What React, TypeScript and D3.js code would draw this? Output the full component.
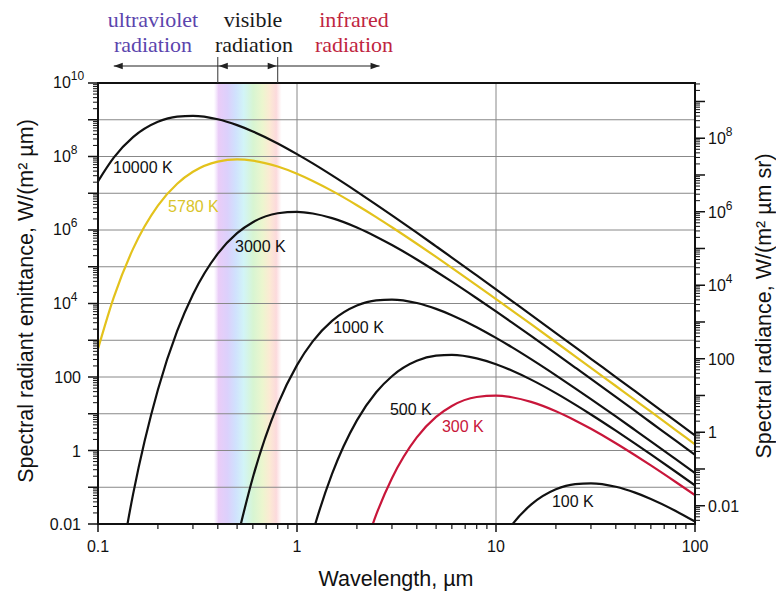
import React from 'react';
import * as d3 from 'd3';

// Wavelength grid, µm
const wavelengths = [
  0.1, 0.12, 0.15, 0.2, 0.25, 0.3, 0.4, 0.5, 0.6, 0.8,
  1, 1.2, 1.5, 2, 2.5, 3, 4, 5, 6, 8,
  10, 12, 15, 20, 25, 30, 40, 50, 60, 80,
  100,
];

// Spectral radiant emittance, W/(m² µm); null = far below the axis
const exitance10000K = [
  2.11e7, 9.33e7, 3.36e8, 8.79e8, 1.22e9, 1.28e9, 1.03e9, 7.14e8, 4.81e8, 2.27e8,
  1.16e8, 6.49e7, 3.06e7, 1.11e7, 4.92e6, 2.5e6, 8.44e5, 3.59e5, 1.78e5, 5.8e4,
  2.42e4, 1.18e4, 4.9e3, 1.57e3, 647, 313, 99.8, 41.0, 19.8, 6.29,
  2.58,
];
const exitance5780K = [
  579, 1.47e4, 3.06e5, 4.6e6, 1.82e7, 3.84e7, 7.26e7, 8.3e7, 7.72e7, 5.32e7,
  3.39e7, 2.16e7, 1.16e7, 4.73e6, 2.25e6, 1.19e6, 4.23e5, 1.86e5, 9.36e4, 3.13e4,
  1.32e4, 6.52e3, 2.73e3, 882, 366, 178, 56.9, 23.5, 11.4, 3.61,
  1.48,
];
const exitance3000K = [
  null, 6.6e-5, 0.0641, 45.0, 1.79e3, 1.76e4, 2.27e5, 8.18e5, 1.63e6, 2.85e6,
  3.12e6, 2.81e6, 2.1e6, 1.17e6, 6.59e5, 3.9e5, 1.58e5, 7.44e4, 3.93e4, 1.39e4,
  6.08e3, 3.06e3, 1.31e3, 432, 181, 88.8, 28.7, 11.9, 5.78, 1.85,
  0.762,
];
const exitance1000K = [
  null, null, null, null, null, null, null, 3.81e-3, 0.185, 17.7,
  211, 933, 3.36e3, 8.79e3, 1.22e4, 1.28e4, 1.03e4, 7.14e3, 4.81e3, 2.27e3,
  1.16e3, 649, 306, 111, 49.2, 25.0, 8.44, 3.59, 1.78, 0.58,
  0.242,
];
const exitance500K = [
  null, null, null, null, null, null, null, null, null, null,
  1.19e-4, 5.79e-3, 0.23, 6.6, 38.4, 105, 275, 380, 401, 322,
  223, 150, 84.8, 36.4, 17.7, 9.57, 3.47, 1.54, 0.782, 0.264,
  0.112,
];
const exitance300K = [
  null, null, null, null, null, null, null, null, null, null,
  null, null, null, 4.5e-4, 0.0179, 0.176, 2.27, 8.18, 16.3, 28.5,
  31.2, 28.1, 21.0, 11.7, 6.59, 3.9, 1.58, 0.744, 0.393, 0.139,
  0.0608,
];
const exitance100K = [
  null, null, null, null, null, null, null, null, null, null,
  null, null, null, null, null, null, null, null, null, null,
  2.11e-3, 9.33e-3, 0.0336, 0.0879, 0.122, 0.128, 0.103, 0.0714, 0.0481, 0.0227,
  0.0116,
];

const temperatureLabels = ['10000 K', '5780 K', '3000 K', '1000 K', '500 K', '300 K', '100 K'];

// Tick values
const xTickLabels = [0.1, 1, 10, 100];
const leftTickLabels = [1e10, 1e8, 1e6, 1e4, 100, 1, 0.01];
const rightTickLabels = [1e8, 1e6, 1e4, 100, 1, 0.01];

// Band boundaries (µm) for the radiation ranges above the plot
const uvStart = 0.12;
const visibleRange = [0.4, 0.8];
const irEnd = 2.6;

const W = 776;
const H = 592;
const left = 98, right = 695, top = 83, bottom = 524;

const sansFont = '"Liberation Sans", Arial, Helvetica, sans-serif';
const serifFont = '"Liberation Serif", "Times New Roman", serif';

function powerParts(v: number) {
  if (v >= 1e4) return { base: '10', exp: String(Math.round(Math.log10(v))) };
  return { base: String(v), exp: null as string | null };
}

export default function App() {
  const x = d3.scaleLog().domain([0.1, 100]).range([left, right]);
  const y = d3.scaleLog().domain([0.01, 1e10]).range([bottom, top]);
  const yR = d3.scaleLog().domain([0.01 / Math.PI, 1e10 / Math.PI]).range([bottom, top]);

  const series = [
    { name: temperatureLabels[0], values: exitance10000K, color: '#111', labelColor: '#111', at: [0.119, 3.6e7] },
    { name: temperatureLabels[1], values: exitance5780K, color: '#e3c21c', labelColor: '#d9c42a', at: [0.225, 3.1e6] },
    { name: temperatureLabels[2], values: exitance3000K, color: '#111', labelColor: '#111', at: [0.488, 2.5e5] },
    { name: temperatureLabels[3], values: exitance1000K, color: '#111', labelColor: '#111', at: [1.52, 1.6e3] },
    { name: temperatureLabels[4], values: exitance500K, color: '#111', labelColor: '#111', at: [2.93, 9] },
    { name: temperatureLabels[5], values: exitance300K, color: '#c8163a', labelColor: '#c8163a', at: [5.35, 3.2] },
    { name: temperatureLabels[6], values: exitance100K, color: '#111', labelColor: '#111', at: [19.1, 0.029] },
  ];

  const line = d3
    .line<[number, number | null]>()
    .defined((d) => d[1] != null)
    .x((d) => x(d[0]))
    .y((d) => y(d[1] as number))
    .curve(d3.curveMonotoneX);

  // decade ticks
  const leftDecades = d3.range(-2, 11).map((e) => Math.pow(10, e));
  const gridDecades = d3.range(-1, 10).map((e) => Math.pow(10, e));
  const leftMinor: number[] = [];
  d3.range(-2, 10).forEach((e) => d3.range(2, 10).forEach((k) => leftMinor.push(k * Math.pow(10, e))));
  const [rLo, rHi] = yR.domain();
  const rightMajor = d3.range(-3, 10).map((e) => Math.pow(10, e)).filter((v) => v >= rLo && v <= rHi);
  const rightMinor: number[] = [];
  d3.range(-3, 10).forEach((e) =>
    d3.range(2, 10).forEach((k) => {
      const v = k * Math.pow(10, e);
      if (v >= rLo && v <= rHi) rightMinor.push(v);
    })
  );
  const xMinor: number[] = [];
  d3.range(-1, 2).forEach((e) => d3.range(2, 10).forEach((k) => xMinor.push(k * Math.pow(10, e))));

  const vx0 = x(visibleRange[0]);
  const vx1 = x(visibleRange[1]);
  const arrowY = 66;
  const head = (px: number, dir: number) =>
    `M${px},${arrowY} L${px - dir * 9},${arrowY - 3.2} L${px - dir * 9},${arrowY + 3.2} Z`;

  return (
    <svg
      width={W}
      height={H}
      viewBox={`0 0 ${W} ${H}`}
      style={{ position: 'absolute', left: 0, top: 0, background: '#fff' }}
    >
      <defs>
        <clipPath id="plotClip">
          <rect x={left} y={top} width={right - left} height={bottom - top} />
        </clipPath>
        <linearGradient id="spectrum" x1="0" x2="1" y1="0" y2="0">
          <stop offset="0%" stopColor="#ead2fa" stopOpacity={0} />
          <stop offset="7%" stopColor="#e6c4f6" stopOpacity={0.85} />
          <stop offset="20%" stopColor="#d6c8fb" stopOpacity={0.85} />
          <stop offset="32%" stopColor="#c8dcfd" stopOpacity={0.85} />
          <stop offset="44%" stopColor="#cdf3f6" stopOpacity={0.9} />
          <stop offset="58%" stopColor="#d3f4cd" stopOpacity={0.9} />
          <stop offset="72%" stopColor="#e9f4c6" stopOpacity={0.85} />
          <stop offset="82%" stopColor="#fbe7cc" stopOpacity={0.85} />
          <stop offset="92%" stopColor="#fbd3d6" stopOpacity={0.85} />
          <stop offset="100%" stopColor="#fcdcdf" stopOpacity={0} />
        </linearGradient>
      </defs>

      {/* visible band */}
      <rect x={vx0 - 4} y={top} width={vx1 - vx0 + 8} height={bottom - top} fill="url(#spectrum)" />

      {/* grid */}
      {gridDecades.map((v) => (
        <line key={'g' + v} x1={left} x2={right} y1={y(v)} y2={y(v)} stroke="#888" strokeWidth={1} />
      ))}
      {[1, 10].map((v) => (
        <line key={'gv' + v} x1={x(v)} x2={x(v)} y1={top} y2={bottom} stroke="#888" strokeWidth={1} />
      ))}

      {/* curves */}
      <g clipPath="url(#plotClip)">
        {series.map((s) => (
          <path
            key={s.name}
            d={line(wavelengths.map((w, i) => [w, s.values[i]] as [number, number | null])) || ''}
            fill="none"
            stroke={s.color}
            strokeWidth={2.2}
            strokeLinejoin="round"
          />
        ))}
      </g>

      {/* curve labels */}
      {series.map((s) => (
        <text
          key={'l' + s.name}
          x={x(s.at[0])}
          y={y(s.at[1])}
          fontFamily={sansFont}
          fontSize={16}
          fill={s.labelColor}
        >
          {s.name}
        </text>
      ))}

      {/* frame */}
      <rect x={left} y={top} width={right - left} height={bottom - top} fill="none" stroke="#111" strokeWidth={2} />

      {/* left axis */}
      {leftDecades.map((v) => (
        <line key={'lt' + v} x1={left - 10} x2={left} y1={y(v)} y2={y(v)} stroke="#111" strokeWidth={1.5} />
      ))}
      {leftMinor.map((v) => (
        <line key={'lm' + v} x1={left - 5} x2={left} y1={y(v)} y2={y(v)} stroke="#111" strokeWidth={1} />
      ))}
      {leftTickLabels.map((v) => {
        const p = powerParts(v);
        return p.exp ? (
          <text key={'ll' + v} x={53} y={y(v) + 5} fontFamily={sansFont} fontSize={16} fill="#111">
            <tspan>{p.base}</tspan>
            <tspan dy={-8} fontSize={12}>{p.exp}</tspan>
          </text>
        ) : (
          <text key={'ll' + v} x={81} y={y(v) + 6} textAnchor="end" fontFamily={sansFont} fontSize={16} fill="#111">
            {p.base}
          </text>
        );
      })}

      {/* right axis (radiance) */}
      {rightMajor.map((v) => (
        <line key={'rt' + v} x1={right} x2={right + 10} y1={yR(v)} y2={yR(v)} stroke="#111" strokeWidth={1.5} />
      ))}
      {rightMinor.map((v) => (
        <line key={'rm' + v} x1={right} x2={right + 5} y1={yR(v)} y2={yR(v)} stroke="#111" strokeWidth={1} />
      ))}
      {rightTickLabels.map((v) => {
        const p = powerParts(v);
        return (
          <text key={'rl' + v} x={708} y={yR(v) + 6} fontFamily={sansFont} fontSize={16} fill="#111">
            <tspan>{p.base}</tspan>
            {p.exp && (
              <tspan dy={-8} fontSize={12}>
                {p.exp}
              </tspan>
            )}
          </text>
        );
      })}

      {/* bottom axis */}
      {xTickLabels.map((v) => (
        <line key={'bt' + v} x1={x(v)} x2={x(v)} y1={bottom} y2={bottom + 8} stroke="#111" strokeWidth={1.5} />
      ))}
      {xMinor.map((v) => (
        <line key={'bm' + v} x1={x(v)} x2={x(v)} y1={bottom} y2={bottom + 5} stroke="#111" strokeWidth={1.2} />
      ))}
      {xTickLabels.map((v) => (
        <text key={'bl' + v} x={x(v)} y={552} textAnchor="middle" fontFamily={sansFont} fontSize={16} fill="#111">
          {String(v)}
        </text>
      ))}

      {/* axis titles */}
      <text x={396} y={586} textAnchor="middle" fontFamily={sansFont} fontSize={21.5} fill="#111">
        Wavelength, µm
      </text>
      <text
        transform="translate(33,301) rotate(-90)"
        textAnchor="middle"
        fontFamily={sansFont}
        fontSize={21.5}
        fill="#111"
      >
        Spectral radiant emittance, W/(m² µm)
      </text>
      <text
        transform="translate(771,306) rotate(-90)"
        textAnchor="middle"
        fontFamily={sansFont}
        fontSize={21.5}
        fill="#111"
      >
        Spectral radiance, W/(m² µm sr)
      </text>

      {/* radiation ranges */}
      <line x1={vx0} x2={vx0} y1={57} y2={top} stroke="#333" strokeWidth={1} />
      <line x1={vx1} x2={vx1} y1={57} y2={top} stroke="#333" strokeWidth={1} />
      <line x1={x(uvStart)} x2={vx0} y1={arrowY} y2={arrowY} stroke="#222" strokeWidth={1.2} />
      <path d={head(x(uvStart), -1)} fill="#222" />
      <line x1={vx0} x2={vx1} y1={arrowY} y2={arrowY} stroke="#222" strokeWidth={1.2} />
      <path d={head(vx0 + 1, -1)} fill="#222" />
      <path d={head(vx1 - 1, 1)} fill="#222" />
      <line x1={vx1} x2={x(irEnd)} y1={arrowY} y2={arrowY} stroke="#222" strokeWidth={1.2} />
      <path d={head(x(irEnd), 1)} fill="#222" />

      <g fontFamily={serifFont} fontSize={22} textAnchor="middle">
        <text x={153} y={27} fill="#5b45ad">ultraviolet</text>
        <text x={153} y={52} fill="#5b45ad">radiation</text>
        <text x={253} y={27} fill="#1a1a1a">visible</text>
        <text x={254} y={52} fill="#1a1a1a">radiation</text>
        <text x={354} y={27} fill="#c0253f">infrared</text>
        <text x={354} y={52} fill="#c0253f">radiation</text>
      </g>
    </svg>
  );
}
